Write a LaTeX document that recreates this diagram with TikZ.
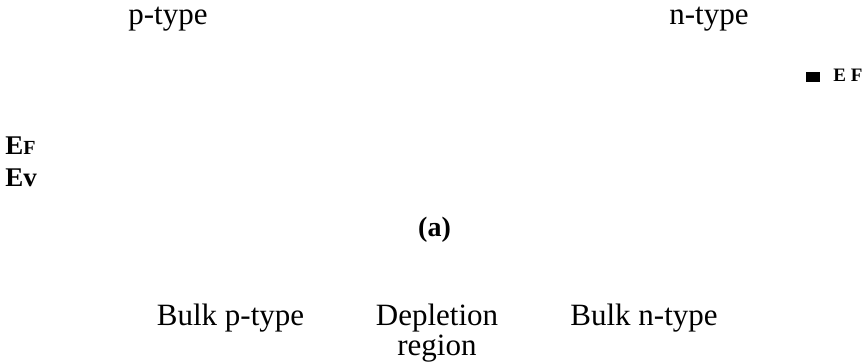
\documentclass[tikz,border=0pt]{standalone}
\usepackage{fontspec}
\setmainfont{Liberation Serif}
\begin{document}
\begin{tikzpicture}[x=0.5pt,y=-0.5pt,
    region/.style={anchor=base, inner sep=0pt, align=center, font=\fontsize{15.5}{15}\selectfont},
    level/.style={anchor=base west, inner sep=0pt, font=\fontsize{13.5}{15}\selectfont\bfseries}]
    \useasboundingbox (0,0) rectangle (866,363);

    % Doping types
    \node[region] (ptype) at (168,25) {p-type};
    \node[region] (ntype) at (709,25) {n-type};

    % Fermi level marker, n side
    \node[fill, inner sep=0pt, minimum width=7pt, minimum height=5pt, anchor=south west] (mark) at (806,82) {};
    \node[level, font=\fontsize{9.5}{11}\selectfont\bfseries] (efn) at (833,82) {E F};

    % Band levels, p side
    \node[level] (efp) at (5,155) {E\fontsize{10}{12}\selectfont F};
    \node[level] (evp) at (5,187) {Ev};

    % Caption
    \node[region, font=\fontsize{14}{16}\selectfont\bfseries] (cap) at (434.5,236) {(a)};

    % Regions (base of a two-line node is its last line)
    \node[region] (bulkp) at (230.5,325) {Bulk p-type};
    \node[region] (depl) at (437,355) {Depletion\\region};
    \node[region] (bulkn) at (644,325) {Bulk n-type};
\end{tikzpicture}
\end{document}
